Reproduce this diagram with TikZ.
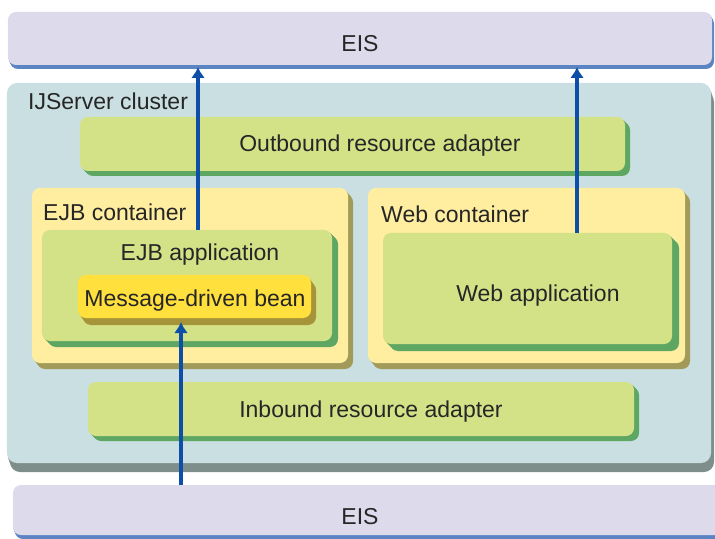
\documentclass[tikz,border=0pt]{standalone}
\usepackage{fontspec}
\setmainfont{Liberation Sans}
\usetikzlibrary{shadows,arrows.meta}

\definecolor{eisFill}{HTML}{DDDAEC}
\definecolor{eisShade}{HTML}{5A84C2}
\definecolor{clusterFill}{HTML}{CADFE1}
\definecolor{clusterShade}{HTML}{7E8E8B}
\definecolor{greenFill}{HTML}{D4E287}
\definecolor{greenShade}{HTML}{5EA763}
\definecolor{creamFill}{HTML}{FFEDA0}
\definecolor{creamShade}{HTML}{A29A58}
\definecolor{beanFill}{HTML}{FFE03C}
\definecolor{beanShade}{HTML}{A6943A}
\definecolor{flowBlue}{HTML}{0D4FA8}
\definecolor{ink}{HTML}{262626}

\tikzset{
  % extruded edge: the box outline repeated at three growing offsets
  extrude/.style n args={3}{
    general shadow={fill=#1, shadow xshift={#2*0.33bp}, shadow yshift={-#3*0.33bp}},
    general shadow={fill=#1, shadow xshift={#2*0.66bp}, shadow yshift={-#3*0.66bp}},
    general shadow={fill=#1, shadow xshift={#2*1bp}, shadow yshift={-#3*1bp}}},
  box/.style={rectangle, rounded corners=8bp, inner sep=0pt, outer sep=0pt},
  eisbox/.style={box, fill=eisFill, extrude={eisShade}{2}{4}},
  clusterbox/.style={box, rounded corners=10bp, fill=clusterFill,
    extrude={clusterShade}{3}{9}},
  appbox/.style={box, fill=greenFill, extrude={greenShade}{#1}{#1}},
  appbox/.default=5,
  containerbox/.style={box, fill=creamFill, extrude={creamShade}{5}{6}},
  beanbox/.style={box, fill=beanFill, extrude={beanShade}{5}{7}},
  txt/.style={inner sep=0pt, text=ink, font=\fontsize{23bp}{27bp}\selectfont},
  flow/.style={draw=flowBlue, line width=4bp,
    -{Latex[length=11bp,width=14bp]}}
}

\begin{document}
\begin{tikzpicture}[x=1bp,y=-1bp]
\useasboundingbox (0,0) rectangle (715,539);

% enterprise information systems
\node[eisbox, minimum width=704bp, minimum height=53bp] (eisTop) at (360,38.5) {};
\node[txt] (eisTopText) at (360,44) {EIS};
\node[eisbox, minimum width=712bp, minimum height=50bp] (eisBottom) at (369,510) {};
\node[txt] (eisBottomText) at (360,517) {EIS};

% server cluster
\node[clusterbox, minimum width=704bp, minimum height=380bp] (cluster) at (359,273) {};
\node[txt, anchor=west] (clusterText) at (28,101) {IJServer cluster};

% outbound adapter
\node[appbox, minimum width=545bp, minimum height=54bp] (outbound) at (352.5,144) {};
\node[txt] (outboundText) at (380,146) {Outbound resource adapter};

% EJB container
\node[containerbox, minimum width=316bp, minimum height=175bp] (ejbc) at (190,275.5) {};
\node[txt, anchor=west] (ejbcText) at (43,212) {EJB container};
\node[appbox=6, minimum width=290bp, minimum height=111bp] (ejbapp) at (187,285.5) {};
\node[txt] (ejbappText) at (200,255) {EJB application};
\node[beanbox, minimum width=233bp, minimum height=43bp] (mdb) at (194.5,296.5) {};
\node[txt] (mdbText) at (195,301) {Message-driven bean};

% Web container
\node[containerbox, minimum width=317bp, minimum height=175bp] (webc) at (526.5,275.5) {};
\node[txt, anchor=west] (webcText) at (381,214) {Web container};
\node[appbox=7, minimum width=289bp, minimum height=111bp] (webapp) at (527.5,288.5) {};
\node[txt] (webappText) at (538,296) {Web application};

% inbound adapter
\node[appbox, minimum width=546bp, minimum height=54bp] (inbound) at (361,409) {};
\node[txt] (inboundText) at (371,412) {Inbound resource adapter};

% message flows
\draw[flow] ([xshift=11bp]ejbapp.north) -- ([xshift=11bp, yshift=-2bp]ejbapp.north |- eisTop.south);
\draw[flow] ([xshift=49.5bp]webapp.north) -- ([xshift=49.5bp, yshift=-2bp]webapp.north |- eisTop.south);
\draw[flow] ([xshift=-13.5bp]mdb.south |- eisBottom.north) -- ([xshift=-13.5bp, yshift=-4bp]mdb.south);
\end{tikzpicture}
\end{document}
